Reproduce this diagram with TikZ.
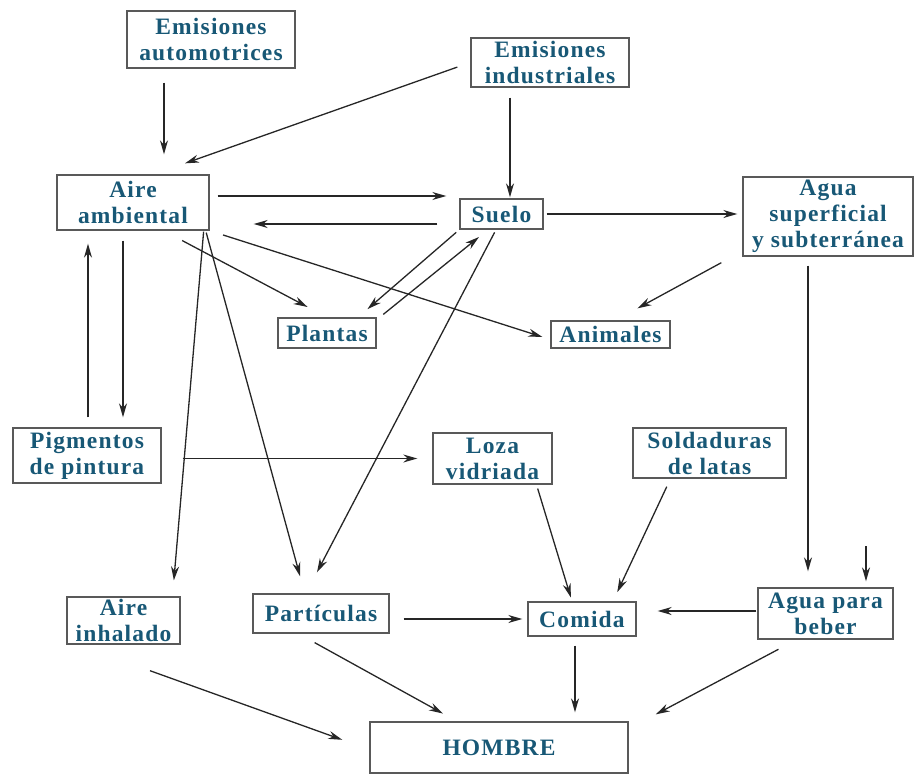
\documentclass[tikz,border=0pt]{standalone}
\usepackage{fontspec}
\usepackage{tikz}
\usetikzlibrary{arrows.meta, positioning, calc}
\newfontfamily\boxfont[LetterSpace=5]{Liberation Serif}
\definecolor{boxtext}{RGB}{24,88,118}

\begin{document}
\begin{tikzpicture}[
    x=1pt, y=-1pt,
    box/.style={draw=black!65, line width=1.4pt, fill=white, text=boxtext,
                font=\boxfont\bfseries\fontsize{23.5}{26}\selectfont,
                align=center, inner sep=0pt},
    arrow/.style={-{Stealth[length=14pt, width=8pt]}, line width=1.3pt, draw=black!85}
]
\useasboundingbox (0,0) rectangle (914,776);

\node[box, minimum width=168pt, minimum height=57pt] (emauto) at (211,39.5) {Emisiones\\automotrices};
\node[box, minimum width=158pt, minimum height=49pt] (emind) at (550,62.5) {Emisiones\\industriales};
\node[box, minimum width=152pt, minimum height=55pt] (aire) at (133,202.5) {Aire\\ambiental};
\node[box, minimum width=83pt, minimum height=30pt] (suelo) at (501.5,214) {Suelo};
\node[box, minimum width=170pt, minimum height=79pt] (agua) at (828,216.5) {Agua\\superficial\\y subterránea};
\node[box, minimum width=98pt, minimum height=30pt] (plantas) at (327,333) {Plantas};
\node[box, minimum width=119pt, minimum height=27pt] (animales) at (610.5,334.5) {Animales};
\node[box, minimum width=148pt, minimum height=55pt] (pigm) at (87,455.5) {Pigmentos\\de pintura};
\node[box, minimum width=119pt, minimum height=51pt] (loza) at (492.5,458.5) {Loza\\vidriada};
\node[box, minimum width=153pt, minimum height=50pt] (sold) at (709.5,453) {Soldaduras\\de latas};
\node[box, minimum width=113pt, minimum height=47pt] (inh) at (123.5,620.5) {Aire\\inhalado};
\node[box, minimum width=136pt, minimum height=39pt] (part) at (321,613.5) {Partículas};
\node[box, minimum width=108pt, minimum height=34pt] (comida) at (582,619) {Comida};
\node[box, minimum width=135pt, minimum height=51pt] (beber) at (825.5,613.5) {Agua para\\beber};
\node[box, minimum width=258pt, minimum height=51pt] (hombre) at (499,747.5) {HOMBRE};

\draw[arrow, shorten <=14pt, shorten >=20pt] ([xshift=-47pt]emauto.south) -- ([xshift=31pt]aire.north);
\draw[arrow, shorten <=13.8pt, shorten >=32.9pt] (emind.west) -- ([xshift=21pt]aire.north);
\draw[arrow, shorten <=10pt, shorten >=1pt] ([xshift=-40pt]emind.south) -- ([xshift=8.5pt]suelo.north);
\draw[arrow, shorten <=8pt, shorten >=13pt] ([yshift=6.5pt]aire.east) -- ([yshift=6.5pt]aire.east -| suelo.west);
\draw[arrow, shorten <=22pt, shorten >=44pt] ([yshift=-10pt]suelo.west) -- ([yshift=-10pt]suelo.west -| aire.east);
\draw[arrow, shorten <=3pt, shorten >=5pt] (suelo.east) -- (suelo.east -| agua.west);
\draw[arrow, shorten <=12.5pt, shorten >=25pt] ([xshift=-10pt]agua.south west) -- ([xshift=5pt]animales.north);
\draw[arrow, shorten <=14pt, shorten >=8.4pt] (aire.south east) -- ([yshift=-5pt]animales.west);
\draw[arrow, shorten <=21pt, shorten >=22pt] ([xshift=30.6pt]aire.south) -- (plantas.north);
\draw[arrow, shorten <=4pt, shorten >=12.5pt] (suelo.south west) -- ([xshift=-18.7pt]plantas.north east);
\draw[arrow, shorten <=4.6pt, shorten >=11.6pt] ([xshift=3pt]plantas.north east) -- ([xshift=-13.5pt]suelo.south);
\draw[arrow, shorten <=3pt, shorten >=23.7pt] ([xshift=-5.5pt]suelo.south) -- ([xshift=-15pt]part.north);
\draw[arrow, shorten <=2pt, shorten >=17.6pt] ([xshift=-4pt]aire.south east) -- ([xshift=-16.3pt]part.north);
\draw[arrow, shorten <=1pt, shorten >=16pt] ([xshift=-6pt]aire.south east) -- ([xshift=49pt]inh.north);
\draw[arrow, shorten <=10pt, shorten >=13pt] ([xshift=1pt]pigm.north) -- ([xshift=-45pt]aire.south);
\draw[arrow, shorten <=10pt, shorten >=10pt] ([xshift=-10pt]aire.south) -- ([xshift=36pt]pigm.north);
\draw[arrow, shorten <=21pt, shorten >=15pt] (pigm.east |- loza.west) -- (loza.west);
\draw[arrow, shorten <=4pt, shorten >=4pt] ([xshift=44pt]loza.south) -- ([xshift=-10pt]comida.north);
\draw[arrow, shorten <=8.8pt, shorten >=10pt] ([xshift=-39pt]sold.south) -- ([xshift=31pt]comida.north);
\draw[arrow, shorten <=9pt, shorten >=16pt] ([xshift=-20pt]agua.south) -- ([xshift=-17.5pt]beber.north);
\coordinate (lluvia) at ([xshift=40.5pt, yshift=41pt]beber.north);
\draw[arrow, shorten >=6pt] (lluvia) -- ([xshift=40.5pt]beber.north);
\draw[arrow, shorten <=1pt, shorten >=21pt] ([yshift=2.5pt]beber.west) -- ([yshift=2.5pt]beber.west -| comida.east);
\draw[arrow, shorten <=14pt, shorten >=5pt] (part.east |- comida.west) -- (comida.west);
\draw[arrow, shorten >=28.7pt] ([xshift=26.5pt, yshift=-26pt]inh.south) -- ([yshift=-2pt]hombre.west);
\draw[arrow, shorten <=18.4pt, shorten >=16pt] ([xshift=-22.5pt]part.south) -- ([xshift=-42pt]hombre.north);
\draw[arrow, shorten <=9pt, shorten >=9pt] ([xshift=-7pt]comida.south) -- ([xshift=76pt]hombre.north);
\draw[arrow, shorten <=20.4pt, shorten >=14.8pt] ([xshift=-29pt]beber.south) -- ([xshift=14pt]hombre.north east);
\end{tikzpicture}
\end{document}
